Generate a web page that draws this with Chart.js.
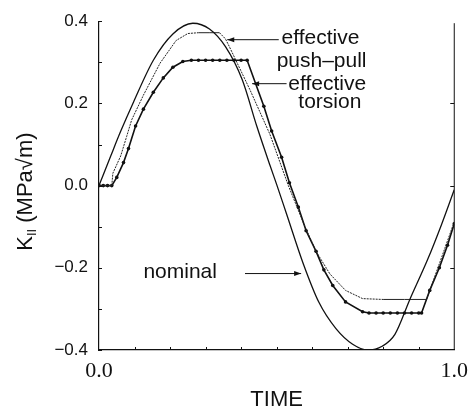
<!DOCTYPE html>
<html>
<head>
<meta charset="utf-8">
<script src="https://cdn.jsdelivr.net/npm/chart.js@4.4.1/dist/chart.umd.min.js"></script>
<style>
  html, body { margin: 0; padding: 0; background: #fff; }
</style>
</head>
<body>
<canvas id="kChart" width="476" height="413"></canvas>
<script>
// nominal K_II over one cycle
const nominalT = [0, 0.033, 0.061, 0.097, 0.153, 0.208, 0.264, 0.311, 0.356, 0.403, 0.444, 0.481, 0.5, 0.528, 0.575, 0.619, 0.667, 0.714, 0.756, 0.797, 0.833, 0.875, 0.925, 0.964, 1.0];
const nominalK = [0, 0.072, 0.132, 0.203, 0.305, 0.369, 0.395, 0.381, 0.338, 0.258, 0.145, 0.05, 0.003, -0.069, -0.19, -0.284, -0.348, -0.386, -0.4, -0.391, -0.362, -0.277, -0.18, -0.095, -0.01];

// effective push-pull
const pushT = [0, 0.036, 0.039, 0.061, 0.078, 0.092, 0.125, 0.172, 0.217, 0.25, 0.28, 0.31, 0.339, 0.356, 0.367, 0.425, 0.481, 0.533, 0.575, 0.611, 0.65, 0.694, 0.742, 0.8, 0.86, 0.922, 0.961, 1.0];
const pushK = [0, 0, 0.03, 0.072, 0.12, 0.16, 0.22, 0.298, 0.353, 0.37, 0.372, 0.372, 0.372, 0.357, 0.338, 0.233, 0.125, 0, -0.09, -0.16, -0.215, -0.255, -0.275, -0.277, -0.277, -0.277, -0.183, -0.088];

// effective torsion (measured, with markers)
const torsionT = [0, 0.012, 0.024, 0.036, 0.05, 0.069, 0.083, 0.103, 0.125, 0.153, 0.181, 0.208, 0.236, 0.26, 0.28, 0.3, 0.32, 0.34, 0.36, 0.38, 0.4, 0.417, 0.464, 0.486, 0.514, 0.536, 0.561, 0.583, 0.611, 0.633, 0.658, 0.694, 0.742, 0.76, 0.78, 0.8, 0.82, 0.84, 0.86, 0.88, 0.9, 0.908, 0.931, 0.958, 0.981, 1.0];
const torsionK = [0, 0, 0, 0, 0.02, 0.056, 0.09, 0.145, 0.186, 0.227, 0.262, 0.288, 0.302, 0.305, 0.305, 0.305, 0.305, 0.305, 0.305, 0.305, 0.305, 0.305, 0.193, 0.133, 0.069, 0.007, -0.052, -0.11, -0.16, -0.205, -0.243, -0.283, -0.307, -0.31, -0.31, -0.31, -0.31, -0.31, -0.31, -0.31, -0.31, -0.31, -0.255, -0.2, -0.145, -0.093];

const yTicks = [0.4, 0.2, 0, -0.2, -0.4];
const xTicks = [0, 1];

// labels and arrows, placed in data units
const notes = [
    { text: 'effective', t: 0.514, k: 0.345 },
    { text: 'push\u2013pull', t: 0.5, k: 0.288 },
    { text: 'effective', t: 0.533, k: 0.233 },
    { text: 'torsion', t: 0.561, k: 0.188 },
    { text: 'nominal', t: 0.125, k: -0.226 }
];
const arrows = [
    { t0: 0.506, k0: 0.355, t1: 0.361, k1: 0.355 },
    { t0: 0.528, k0: 0.248, t1: 0.431, k1: 0.248 },
    { t0: 0.411, k0: -0.214, t1: 0.569, k1: -0.214 }
];

const pts = (ts, ks) => ts.map((t, i) => ({ x: t, y: ks[i] }));
const INK = '#111';
const SANS = '"Liberation Sans", Arial, sans-serif';

const extras = {
    id: 'extras',
    afterDraw(chart) {
        const { ctx, chartArea: a } = chart;
        const xs = chart.scales.x, ys = chart.scales.y;
        ctx.save();
        ctx.strokeStyle = INK;
        ctx.fillStyle = INK;
        ctx.lineWidth = 1;

        // right frame line
        ctx.beginPath();
        ctx.moveTo(a.right, a.top + 2);
        ctx.lineTo(a.right, a.bottom);
        ctx.stroke();

        // inward ticks
        ctx.beginPath();
        for (let v = -0.4; v <= 0.401; v += 0.1) {
            const y = Math.round(ys.getPixelForValue(v)) + 0.5;
            ctx.moveTo(a.left, y);
            ctx.lineTo(a.left + 3, y);
        }
        for (let v = -0.2; v <= 0.21; v += 0.2) {
            const y = Math.round(ys.getPixelForValue(v)) + 0.5;
            ctx.moveTo(a.right, y);
            ctx.lineTo(a.right - 4, y);
        }
        for (let t = 0.1; t < 0.95; t += 0.1) {
            const x = Math.round(xs.getPixelForValue(t)) + 0.5;
            ctx.moveTo(x, a.bottom);
            ctx.lineTo(x, a.bottom - 3);
        }
        ctx.stroke();

        // annotation text
        ctx.font = '21px ' + SANS;
        ctx.textBaseline = 'alphabetic';
        ctx.textAlign = 'left';
        notes.forEach(n => ctx.fillText(n.text, xs.getPixelForValue(n.t), ys.getPixelForValue(n.k)));

        // arrows
        arrows.forEach(r => {
            const x0 = xs.getPixelForValue(r.t0), y0 = ys.getPixelForValue(r.k0);
            const x1 = xs.getPixelForValue(r.t1), y1 = ys.getPixelForValue(r.k1);
            const ang = Math.atan2(y1 - y0, x1 - x0);
            ctx.beginPath();
            ctx.moveTo(x0, y0);
            ctx.lineTo(x1, y1);
            ctx.stroke();
            ctx.beginPath();
            ctx.moveTo(x1, y1);
            ctx.lineTo(x1 - 7 * Math.cos(ang) + 2.5 * Math.sin(ang), y1 - 7 * Math.sin(ang) - 2.5 * Math.cos(ang));
            ctx.lineTo(x1 - 7 * Math.cos(ang) - 2.5 * Math.sin(ang), y1 - 7 * Math.sin(ang) + 2.5 * Math.cos(ang));
            ctx.closePath();
            ctx.fill();
        });

        // y axis title with subscript
        const big = '22px ' + SANS, small = '13px ' + SANS;
        ctx.font = big;
        const wK = ctx.measureText('K').width;
        const wRest = ctx.measureText(' (MPa\u221Am)').width;
        ctx.font = small;
        const wSub = ctx.measureText('II').width;
        const total = wK + wSub + wRest;
        ctx.translate(32, (a.top + a.bottom) / 2 + 6);
        ctx.rotate(-Math.PI / 2);
        ctx.textBaseline = 'alphabetic';
        let x = -total / 2;
        ctx.font = big;
        ctx.fillText('K', x, 0);
        x += wK;
        ctx.font = small;
        ctx.fillText('II', x, 4);
        x += wSub;
        ctx.font = big;
        ctx.fillText(' (MPa\u221Am)', x, 0);
        ctx.restore();
    }
};

new Chart(document.getElementById('kChart'), {
    type: 'line',
    data: {
        datasets: [
            {
                label: 'nominal',
                data: pts(nominalT, nominalK),
                borderColor: INK,
                borderWidth: 1.3,
                pointRadius: 0,
                cubicInterpolationMode: 'monotone'
            },
            {
                label: 'effective push-pull',
                data: pts(pushT, pushK),
                borderColor: '#222',
                borderWidth: 1,
                pointRadius: 0,
                tension: 0,
                segment: {
                    // sloping parts look dotted in the figure, flats are solid
                    borderDash: c => (c.p0.parsed.y === c.p1.parsed.y ? [] : [2, 1])
                }
            },
            {
                label: 'effective torsion',
                data: pts(torsionT, torsionK),
                borderColor: INK,
                borderWidth: 1.6,
                pointRadius: 1.8,
                pointBackgroundColor: INK,
                pointBorderWidth: 0,
                tension: 0
            }
        ]
    },
    options: {
        responsive: false,
        animation: false,
        layout: { padding: { top: 13, right: 16, left: 0, bottom: 0 } },
        plugins: {
            legend: { display: false },
            tooltip: { enabled: false }
        },
        scales: {
            x: {
                type: 'linear',
                min: 0,
                max: 1,
                afterBuildTicks: s => { s.ticks = xTicks.map(v => ({ value: v })); },
                afterFit: s => { s.height = 63; },
                grid: { display: false, drawTicks: false },
                border: { display: true, color: INK, width: 1.2 },
                ticks: {
                    color: INK,
                    padding: 8,
                    maxRotation: 0,
                    font: { family: '"Liberation Serif", "Times New Roman", serif', size: 22 },
                    callback: v => v.toFixed(1)
                },
                title: {
                    display: true,
                    text: 'TIME',
                    color: INK,
                    padding: { top: 0, bottom: 0 },
                    font: { family: SANS, size: 22 }
                }
            },
            y: {
                min: -0.4,
                max: 0.4,
                afterBuildTicks: s => { s.ticks = yTicks.map(v => ({ value: v })); },
                afterFit: s => { s.width = 99; },
                grid: { display: false, drawTicks: false },
                border: { display: true, color: INK, width: 1.2 },
                ticks: {
                    color: INK,
                    padding: 11,
                    font: { family: SANS, size: 17 },
                    callback: v => (v < 0 ? '\u2212' : '') + Math.abs(v).toFixed(1)
                }
            }
        }
    },
    plugins: [extras]
});
</script>
</body>
</html>
